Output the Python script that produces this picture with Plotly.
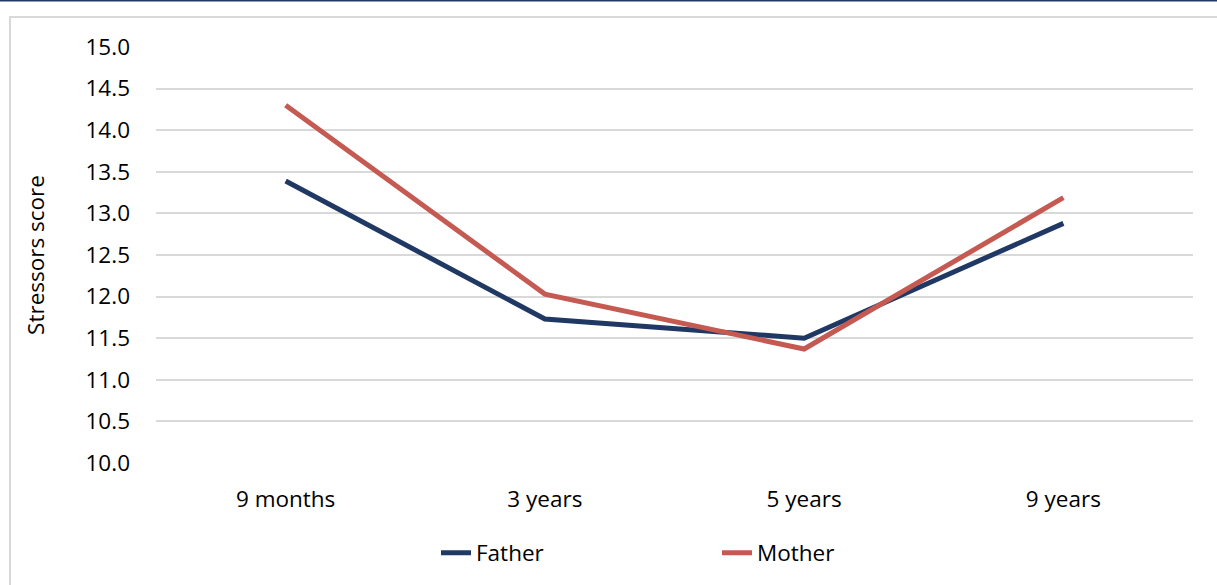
import plotly.graph_objects as go

categories = ["9 months", "3 years", "5 years", "9 years"]
father = [13.39, 11.73, 11.50, 12.88]
mother = [14.30, 12.03, 11.37, 13.19]
y_ticks = [10.0, 10.5, 11.0, 11.5, 12.0, 12.5, 13.0, 13.5, 14.0, 14.5, 15.0]

W, H = 1217, 585
L, R, T, B = 156, 24, 47, 122
pw, ph = W - L - R, H - T - B

FONT = "Open Sans"
FS = 22.5
fig = go.Figure()
fig.add_trace(go.Scatter(x=categories, y=father, name="Father", mode="lines",
                         line=dict(color="#203864", width=5)))
fig.add_trace(go.Scatter(x=categories, y=mother, name="Mother", mode="lines",
                         line=dict(color="#C55A52", width=5)))

def px_x(x):
    return (x - L) / pw

def px_y(y):
    return 1 - (y - T) / ph

fig.update_layout(
    width=W, height=H,
    margin=dict(l=L, r=R, t=T, b=B, autoexpand=False),
    paper_bgcolor="white", plot_bgcolor="white",
    font=dict(family=FONT, size=FS, color="#000000"),
    showlegend=True,
    legend=dict(orientation="h", x=px_x(436), xanchor="left", y=px_y(553), yanchor="middle",
                font=dict(size=FS), entrywidth=236, entrywidthmode="pixels",
                bgcolor="rgba(0,0,0,0)"),
    xaxis=dict(type="category", range=[-0.5, 3.5], showgrid=False, zeroline=False,
               showline=False, ticks="", ticklabelstandoff=20,
               tickfont=dict(size=FS)),
    yaxis=dict(range=[10, 15], tickvals=y_ticks, ticktext=[f"{v:.1f}" for v in y_ticks],
               showgrid=True, gridcolor="#D9D9D9", gridwidth=1.5, zeroline=False,
               showline=False, ticks="", ticklabelstandoff=25,
               tickfont=dict(size=FS),
               title=dict(text="Stressors score", font=dict(size=FS), standoff=34)),
    shapes=[
        dict(type="rect", xref="paper", yref="paper",
             x0=px_x(10), x1=px_x(1240), y0=px_y(17), y1=px_y(620),
             line=dict(color="#D9D9D9", width=2), fillcolor="rgba(0,0,0,0)", layer="below"),
        dict(type="line", xref="paper", yref="paper",
             x0=px_x(-5), x1=px_x(1230), y0=px_y(0.5), y1=px_y(0.5),
             line=dict(color="#1F3864", width=2)),
    ],
)

fig.write_html("out.html", config={"displayModeBar": False},
               post_script="document.body.style.margin='0';document.body.style.overflow='hidden';")
